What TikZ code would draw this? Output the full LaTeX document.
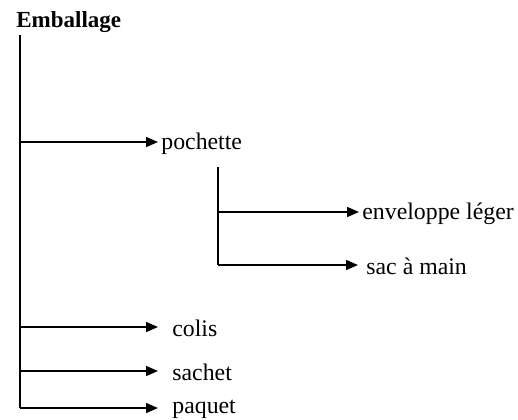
\documentclass[tikz,border=0pt]{standalone}
\usepackage{fontspec}
\setmainfont{Liberation Serif}
\usetikzlibrary{arrows.meta}
\begin{document}
\begin{tikzpicture}[x=0.5pt,y=-0.5pt,
  lbl/.style={anchor=west,inner sep=0pt,yshift=-0.8pt,font=\fontsize{11.9}{13}\selectfont},
  branch/.style={line width=0.75pt,-{Triangle[length=6pt,width=5pt]}},
  spine/.style={line width=1pt}]
\useasboundingbox (0,0) rectangle (518,419);
% root title
\node[anchor=west,inner sep=0pt,font=\fontsize{11.5}{13}\selectfont\bfseries] (root) at (16,22) {Emballage};
% main spine and its branch points
\coordinate (s0) at (20,35);
\coordinate (b1) at (20,142);
\coordinate (b2) at (20,327);
\coordinate (b3) at (20,371);
\coordinate (b4) at (20,408);
\draw[spine] (s0) -- (b4);
% leaves of the main spine
\node[lbl] (poch) at (161,142) {pochette};
\node[lbl] (colis) at (172,327) {colis};
\node[lbl] (sachet) at (172,371) {sachet};
\node[lbl] (paquet) at (172,408) {paquet};
\coordinate (t1) at (158,142);
\coordinate (t2) at (158,327);
\coordinate (t3) at (158,371);
\coordinate (t4) at (158,408);
\draw[branch] (b1) -- (t1);
\draw[branch] (b2) -- (t2);
\draw[branch] (b3) -- (t3);
\draw[branch] (b4) -- (t4);
% sub-spine under pochette
\coordinate (p0) at (218,167);
\coordinate (p1) at (218,212);
\coordinate (p2) at (218,265);
\draw[line width=0.75pt] (p0) -- (p2);
\node[lbl] (env) at (362,212) {enveloppe léger};
\node[lbl] (sac) at (366,265) {sac à main};
\coordinate (u1) at (359,212);
\coordinate (u2) at (358,265);
\draw[branch] (p1) -- (u1);
\draw[branch] (p2) -- (u2);
\end{tikzpicture}
\end{document}
